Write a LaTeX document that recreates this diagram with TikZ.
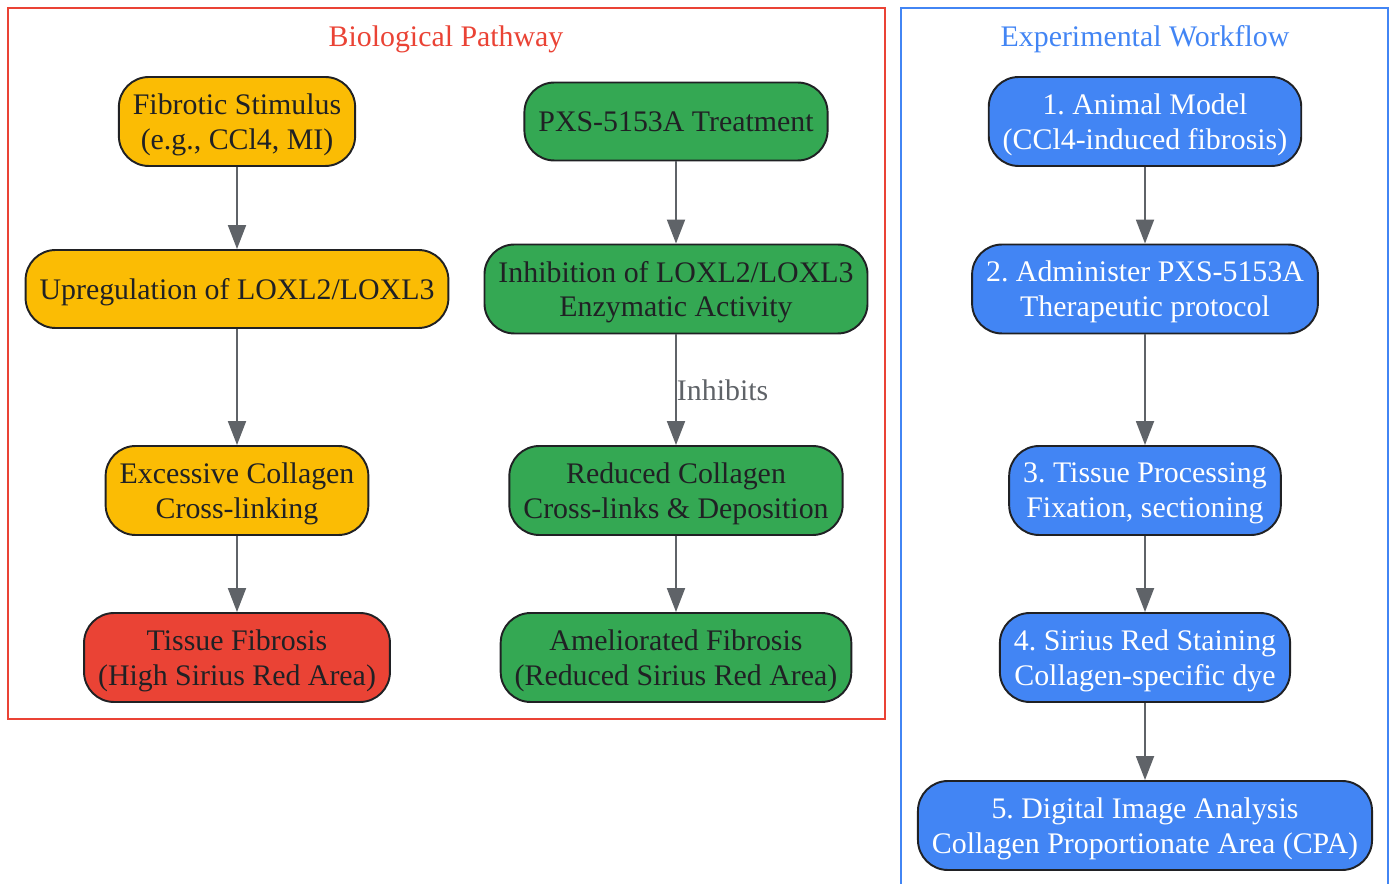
\documentclass[tikz,border=0pt]{standalone}
\usepackage{fontspec}
\setmainfont{Liberation Serif}
\usepackage{xcolor}
\usetikzlibrary{arrows.meta,positioning}
\frenchspacing
\definecolor{gyellow}{HTML}{FBBC04}
\definecolor{ggreen}{HTML}{34A853}
\definecolor{gred}{HTML}{EA4335}
\definecolor{gblue}{HTML}{4285F4}
\definecolor{ink}{HTML}{202124}
\definecolor{edgegray}{HTML}{5F6368}
\tikzset{
    box/.style={draw=ink, line width=1.1pt, rounded corners=0.6cm, align=center,
        inner xsep=0.28cm, text=ink, text depth=0pt, font=\fontsize{17}{19.9}\selectfont},
    onebox/.style={box, minimum height=1.56cm},
    twobox/.style={box, minimum height=1.78cm},
    flow/.style={edgegray, line width=1.1pt, -{Triangle[length=0.48cm,width=0.36cm]}},
    frametitle/.style={font=\fontsize{17}{19.9}\selectfont, text depth=0pt},
}

\begin{document}
\begin{tikzpicture}[x=0.02cm, y=-0.02cm]
    \useasboundingbox (0,0) rectangle (1393,884);

    % Biological pathway frame
    \draw[gred, line width=1.1pt] (8,8) rectangle (885,719);
    \node[frametitle, text=gred] (bioTitle) at (446,36) {Biological Pathway};

    % Experimental workflow frame (runs off the bottom)
    \draw[gblue, line width=1.1pt] (901,890) |- (1388,8) -- (1388,890);
    \node[frametitle, text=gblue] (expTitle) at (1145,36) {Experimental Workflow};

    % Disease branch
    \node[twobox, fill=gyellow] (stimulus) at (237,121.5) {Fibrotic Stimulus\\(e.g., CCl4, MI)};
    \node[onebox, fill=gyellow] (upreg) at (237,289) {Upregulation of LOXL2/LOXL3};
    \node[twobox, fill=gyellow] (crosslink) at (237,490.5) {Excessive Collagen\\Cross-linking};
    \node[twobox, fill=gred] (fibrosis) at (237,657.5) {Tissue Fibrosis\\(High Sirius Red Area)};

    % Treatment branch
    \node[onebox, fill=ggreen] (treat) at (676,121.5) {PXS-5153A Treatment};
    \node[twobox, fill=ggreen] (inhib) at (676,289) {Inhibition of LOXL2/LOXL3\\Enzymatic Activity};
    \node[twobox, fill=ggreen] (reduced) at (676,490.5) {Reduced Collagen\\Cross-links \& Deposition};
    \node[twobox, fill=ggreen] (amelior) at (676,657.5) {Ameliorated Fibrosis\\(Reduced Sirius Red Area)};

    % Workflow steps
    \node[twobox, fill=gblue, text=white] (model) at (1145,121.5) {1. Animal Model\\(CCl4-induced fibrosis)};
    \node[twobox, fill=gblue, text=white] (admin) at (1145,289) {2. Administer PXS-5153A\\Therapeutic protocol};
    \node[twobox, fill=gblue, text=white] (process) at (1145,490.5) {3. Tissue Processing\\Fixation, sectioning};
    \node[twobox, fill=gblue, text=white] (stain) at (1145,657.5) {4. Sirius Red Staining\\Collagen-specific dye};
    \node[twobox, fill=gblue, text=white] (analysis) at (1145,825.5) {5. Digital Image Analysis\\Collagen Proportionate Area (CPA)};

    % Arrows
    \draw[flow] (stimulus) -- (upreg);
    \draw[flow] (upreg) -- (crosslink);
    \draw[flow] (crosslink) -- (fibrosis);
    \draw[flow] (treat) -- (inhib);
    \draw[flow] (inhib) -- node[anchor=west, inner sep=0pt, text=edgegray, frametitle] (inhLabel) {Inhibits} (reduced);
    \draw[flow] (reduced) -- (amelior);
    \draw[flow] (model) -- (admin);
    \draw[flow] (admin) -- (process);
    \draw[flow] (process) -- (stain);
    \draw[flow] (stain) -- (analysis);
\end{tikzpicture}
\end{document}
